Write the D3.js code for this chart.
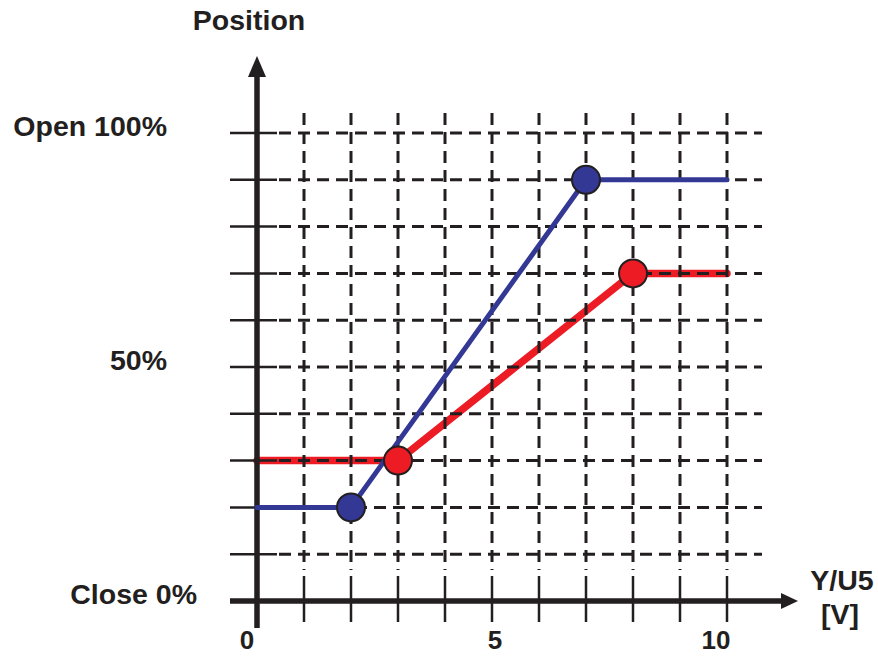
<!DOCTYPE html>
<html>
<head>
<meta charset="utf-8">
<script src="https://cdn.jsdelivr.net/npm/d3@7"></script>
<style>
  html, body { margin: 0; padding: 0; background: #fff; }
  svg { display: block; font-family: "Liberation Sans", Arial, sans-serif; font-weight: bold; }
</style>
</head>
<body>
<svg id="chart" width="878" height="657"></svg>
<script>
// ---- data ----
const xGridValues = [1, 2, 3, 4, 5, 6, 7, 8, 9, 10];
const yGridValues = [10, 20, 30, 40, 50, 60, 70, 80, 90, 100];
const xTickValues = [0, 5, 10];
const xTickLabels = ["0", "5", "10"];
const yLabelValues = [100, 50, 0];
const yLabelTexts = ["Open 100%", "50%", "Close 0%"];
const blueX = [0, 2, 7, 10];
const blueY = [20, 20, 90, 90];
const blueMarkers = [1, 2];
const redX = [0, 3, 8, 10];
const redY = [30, 30, 70, 70];
const redMarkers = [1, 2];
const yTitle = "Position";
const xTitle = ["Y/U5", "[V]"];

// ---- layout ----
const ink = "#231f20";
const blue = "#333894";
const red = "#ed1c24";
const svg = d3.select("#chart");
const x = d3.scaleLinear().domain([0, 10]).range([257, 727]);
const y = d3.scaleLinear().domain([0, 100]).range([601, 133]);

const blueData = blueX.map((v, i) => [v, blueY[i]]);
const redData = redX.map((v, i) => [v, redY[i]]);
const line = d3.line().x(d => x(d[0])).y(d => y(d[1]));

// red line (under grid)
svg.append("path").attr("d", line(redData))
  .attr("fill", "none").attr("stroke", red).attr("stroke-width", 7.5)
  .attr("stroke-linecap", "round").attr("stroke-linejoin", "round");

// horizontal grid
const hg = svg.append("g");
hg.selectAll("line.solid").data(yGridValues).join("line")
  .attr("x1", 230).attr("x2", 277)
  .attr("y1", d => y(d)).attr("y2", d => y(d))
  .attr("stroke", ink).attr("stroke-width", 2.5);
hg.selectAll("line.dash").data(yGridValues).join("line")
  .attr("x1", 279).attr("x2", 762)
  .attr("y1", d => y(d)).attr("y2", d => y(d))
  .attr("stroke", ink).attr("stroke-width", 3)
  .attr("stroke-dasharray", "12 7");

// vertical grid
const vg = svg.append("g");
vg.selectAll("line.dash").data(xGridValues).join("line")
  .attr("x1", d => x(d)).attr("x2", d => x(d))
  .attr("y1", 113).attr("y2", 570)
  .attr("stroke", ink).attr("stroke-width", 3)
  .attr("stroke-dasharray", "12 7");
vg.selectAll("line.solid").data(xGridValues).join("line")
  .attr("x1", d => x(d)).attr("x2", d => x(d))
  .attr("y1", 576).attr("y2", 622)
  .attr("stroke", ink).attr("stroke-width", 2.5);

// axes
svg.append("line").attr("x1", x(0)).attr("x2", x(0)).attr("y1", 74).attr("y2", 628)
  .attr("stroke", ink).attr("stroke-width", 5.5);
svg.append("path").attr("d", `M${x(0)},56 L${x(0) - 9},77 L${x(0) + 9},77 Z`).attr("fill", ink);
svg.append("line").attr("x1", 230).attr("x2", 784).attr("y1", y(0)).attr("y2", y(0))
  .attr("stroke", ink).attr("stroke-width", 5.5);
svg.append("path").attr("d", `M798,${y(0)} L781,${y(0) - 8} L781,${y(0) + 8} Z`).attr("fill", ink);

// blue line (over grid)
svg.append("path").attr("d", line(blueData))
  .attr("fill", "none").attr("stroke", blue).attr("stroke-width", 5)
  .attr("stroke-linecap", "round").attr("stroke-linejoin", "round");

// markers
svg.selectAll("circle.b").data(blueMarkers.map(i => blueData[i])).join("circle")
  .attr("cx", d => x(d[0])).attr("cy", d => y(d[1])).attr("r", 14)
  .attr("fill", blue).attr("stroke", ink).attr("stroke-width", 2);
svg.selectAll("circle.r").data(redMarkers.map(i => redData[i])).join("circle")
  .attr("cx", d => x(d[0])).attr("cy", d => y(d[1])).attr("r", 14)
  .attr("fill", red).attr("stroke", ink).attr("stroke-width", 2);

// texts
svg.append("text").text(yTitle).attr("x", 249).attr("y", 30)
  .attr("text-anchor", "middle").attr("font-size", 28.5).attr("fill", ink);

const yLabelRight = [167, 167, 197];
svg.selectAll("text.yl").data(yLabelValues).join("text")
  .text((d, i) => yLabelTexts[i])
  .attr("x", (d, i) => yLabelRight[i]).attr("y", d => y(d) + 3)
  .attr("text-anchor", "end").attr("font-size", 28.5).attr("fill", ink);

const xLabelShift = [-10, 3, -11];
svg.selectAll("text.xl").data(xTickValues).join("text")
  .text((d, i) => xTickLabels[i])
  .attr("x", (d, i) => x(d) + xLabelShift[i]).attr("y", 649)
  .attr("text-anchor", "middle").attr("font-size", 26).attr("fill", ink);

svg.append("text").text(xTitle[0]).attr("x", 842).attr("y", 590)
  .attr("text-anchor", "middle").attr("font-size", 28.5).attr("fill", ink);
svg.append("text").text(xTitle[1]).attr("x", 840).attr("y", 624)
  .attr("text-anchor", "middle").attr("font-size", 28.5).attr("fill", ink);
</script>
</body>
</html>
